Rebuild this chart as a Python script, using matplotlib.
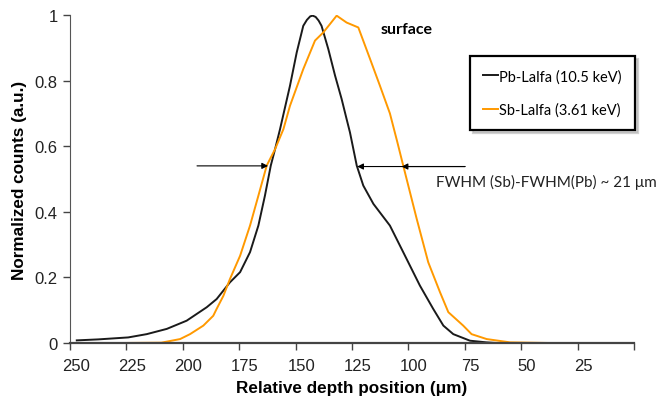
import numpy as np
import matplotlib.pyplot as plt

# Pb-Lalfa (10.5 keV) profile
pb_x = [249.5, 240, 226.7, 218.5, 209.6, 200.8, 191.9, 187.5, 181.6, 177.1, 172.7, 169.0,
        166.1, 163.5, 161.6, 159.4, 155.0, 152.0, 149.1, 147.5, 146.0, 144.9, 143.6, 142.3,
        141.0, 138.0, 135.0, 132.1, 129.9, 128.4, 125.4, 122.5, 118.0, 110.7, 104.8, 97.4,
        91.5, 87.0, 82.6, 75.2, 68, 63.4, 50, 25, 3]
pb_y = [0.008, 0.011, 0.017, 0.027, 0.043, 0.068, 0.109, 0.134, 0.185, 0.216, 0.277, 0.358,
        0.449, 0.541, 0.591, 0.652, 0.784, 0.886, 0.967, 0.985, 0.996, 0.998, 0.994, 0.983,
        0.967, 0.896, 0.815, 0.744, 0.683, 0.642, 0.541, 0.480, 0.424, 0.358, 0.277, 0.175,
        0.104, 0.053, 0.027, 0.007, 0.002, 0.0, 0.0, 0.0, 0.0]

# Sb-Lalfa (3.61 keV) profile
sb_x = [249.5, 230, 212, 203.7, 199.3, 193.4, 189.0, 187.5, 184.5, 181.6, 177.1, 172.7,
        169.0, 165.3, 161.6, 157.9, 155.0, 149.1, 143.9, 140.2, 134.3, 129.9, 124.7, 119.5,
        115.1, 110.7, 107.5, 104.8, 98.8, 93.7, 88.5, 84.8, 78.2, 74.5, 67.8, 57.5, 40, 20, 3]
sb_y = [0.0, 0.0, 0.001, 0.012, 0.027, 0.053, 0.083, 0.104, 0.144, 0.195, 0.266, 0.358,
        0.449, 0.541, 0.591, 0.652, 0.723, 0.835, 0.922, 0.947, 0.998, 0.977, 0.962, 0.866,
        0.784, 0.700, 0.615, 0.541, 0.378, 0.246, 0.155, 0.094, 0.053, 0.027, 0.012, 0.002,
        0.0, 0.0, 0.0]

x_ticks = [250, 225, 200, 175, 150, 125, 100, 75, 50, 25]
y_ticks = [0, 0.2, 0.4, 0.6, 0.8, 1]
y_labels = ["0", "0.2", "0.4", "0.6", "0.8", "1"]

plt.rcParams['font.family'] = ['Liberation Sans', 'DejaVu Sans']

fig = plt.figure(figsize=(6.62, 4.02), dpi=100)
ax = fig.add_axes([70 / 662, 1 - 344 / 402, 564 / 662, 328 / 402])

ax.plot(pb_x, pb_y, color='#1a1a1a', lw=1.4, label='Pb-Lalfa (10.5 keV)')
ax.plot(sb_x, sb_y, color='#FF9900', lw=1.4, label='Sb-Lalfa (3.61 keV)')

ax.set_xlim(252.5, 2.5)
ax.set_ylim(0, 1)

# etiquetas y marcas del eje x
ax.set_xticks(x_ticks)
ax.set_xticks(np.arange(252.5, 0, -25), minor=True)
ax.tick_params(axis='x', which='major', length=0, pad=11, labelsize=12, labelcolor='#222222')
ax.tick_params(axis='x', which='minor', length=5, width=1, color='#444444', direction='out')
ax.set_yticks(y_ticks)
ax.set_yticklabels(y_labels)
ax.tick_params(axis='y', length=5, width=1, color='#444444', labelsize=12, labelcolor='#222222', pad=4)

for s in ['top', 'right']:
    ax.spines[s].set_visible(False)
ax.spines['left'].set_color('#555555')
ax.spines['bottom'].set_color('#444444')
ax.spines['bottom'].set_linewidth(1.6)

ax.set_xlabel('Relative depth position (μm)', fontsize=12.3, fontweight='bold', labelpad=5)
ax.set_ylabel('Normalized counts (a.u.)', fontsize=12.3, fontweight='bold', labelpad=5)

# flechas FWHM
arrow = dict(arrowstyle='-|>', color='black', lw=0.8, mutation_scale=9, shrinkA=0, shrinkB=0)
ax.annotate('', xy=(164.7, 0.54), xytext=(196.2, 0.54), arrowprops=arrow)
ax.annotate('', xy=(125.2, 0.538), xytext=(77.4, 0.538), arrowprops=arrow)
ax.annotate('', xy=(105.5, 0.538), xytext=(77.4, 0.538), arrowprops=arrow)

ax.text(103.5, 0.957, 'surface', fontsize=11.5, fontweight='bold', family=['Lato', 'DejaVu Sans'],
        ha='center', va='center')
ax.text(41.5, 0.491, 'FWHM (Sb)-FWHM(Pb) ~ 21 μm', fontsize=11, family=['Lato', 'DejaVu Sans'],
        ha='center', va='center', color='#222222')

leg = ax.legend(loc='upper left', bbox_to_anchor=(470 / 662, 1 - 57 / 402),
                bbox_transform=fig.transFigure, frameon=True, fancybox=False,
                shadow={'color': '0.7', 'alpha': 0.6}, handlelength=1.0, handletextpad=0.1,
                labelspacing=1.3, borderpad=0.9, borderaxespad=0,
                prop={'family': ['Lato', 'DejaVu Sans'], 'size': 10.5})
leg.get_frame().set_edgecolor('black')
leg.get_frame().set_linewidth(1.6)

fig.savefig('out.png', dpi=100)
